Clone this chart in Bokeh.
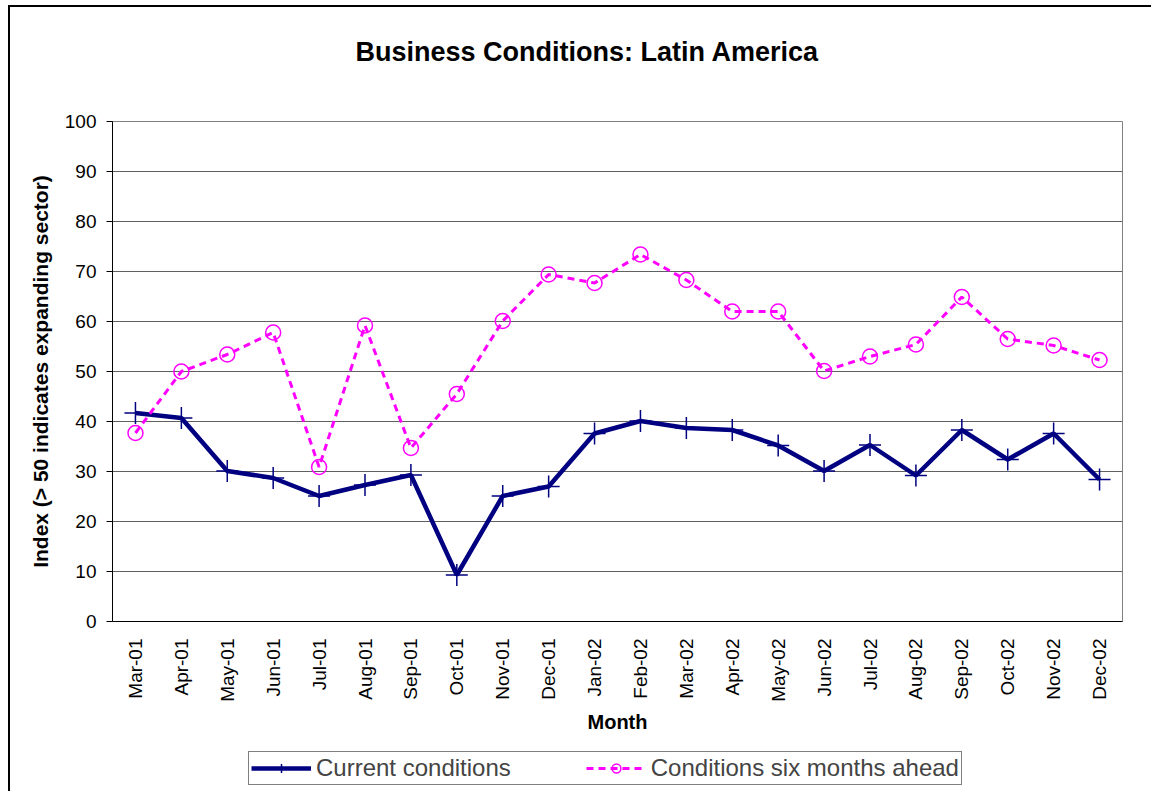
import math
from bokeh.plotting import figure
from bokeh.layouts import column
from bokeh.models import Legend, LegendItem, FixedTicker, Title
from bokeh.embed import file_html
from bokeh.resources import INLINE

months = ["Mar-01", "Apr-01", "May-01", "Jun-01", "Jul-01", "Aug-01", "Sep-01",
          "Oct-01", "Nov-01", "Dec-01", "Jan-02", "Feb-02", "Mar-02", "Apr-02",
          "May-02", "Jun-02", "Jul-02", "Aug-02", "Sep-02", "Oct-02", "Nov-02", "Dec-02"]
current = [41.7, 40.7, 30.1, 28.7, 25.1, 27.3, 29.3, 9.3, 25.1, 27.0, 37.6,
           40.1, 38.7, 38.3, 35.2, 30.1, 35.3, 29.2, 38.3, 32.4, 37.6, 28.4]
ahead = [37.7, 50.0, 53.4, 57.8, 30.9, 59.2, 34.7, 45.5, 60.1, 69.4, 67.7,
         73.4, 68.3, 62.0, 62.0, 50.1, 53.0, 55.4, 64.9, 56.5, 55.2, 52.3]
y_ticks = [0, 10, 20, 30, 40, 50, 60, 70, 80, 90, 100]
series_names = ["Current conditions", "Conditions six months ahead"]
chart_title = "Business Conditions: Latin America"

FONT = "Liberation Sans"
NAVY = "#000080"
MAGENTA = "#FF00FF"


def draw_series(fig):
    l1 = fig.line(months, current, line_color=NAVY, line_width=4.5)
    m1 = fig.scatter(months, current, marker="cross", size=22, line_color=NAVY,
                     line_width=1.5)
    l2 = fig.line(months, ahead, line_color=MAGENTA, line_width=3, line_dash="7 5")
    m2 = fig.scatter(months, ahead, marker="circle", size=15, line_color=MAGENTA,
                     fill_color=None, line_width=1.5)
    return [l1, m1], [l2, m2]


p = figure(width=1141, height=734, x_range=months, y_range=(0, 100),
           output_backend="svg", toolbar_location=None,
           min_border_left=102, min_border_right=29,
           min_border_top=114, min_border_bottom=120)

# spacer between frame and title (closest to the frame), then the title itself
spacer = Title(text="\u00a0", text_font=FONT, text_font_size="1px", standoff=50)
p.add_layout(spacer, "above")
main_title = Title(text=chart_title, text_font=FONT, text_font_size="27px",
                   text_font_style="bold", text_color="black", align="left",
                   offset=243, standoff=4)
p.add_layout(main_title, "above")

p.outline_line_color = "#808080"
p.background_fill_color = "white"
p.border_fill_color = "white"

p.xgrid.grid_line_color = None
p.ygrid.grid_line_color = "#606060"
p.ygrid.grid_line_width = 1

yax = p.yaxis[0]
yax.ticker = FixedTicker(ticks=y_ticks)
yax.axis_label = "Index (> 50 indicates expanding sector)"
yax.axis_label_text_font = FONT
yax.axis_label_text_font_size = "21px"
yax.axis_label_text_font_style = "bold"
yax.axis_label_text_color = "black"
yax.axis_label_standoff = 10
yax.major_label_text_font = FONT
yax.major_label_text_font_size = "19px"
yax.major_label_text_color = "black"
yax.major_label_standoff = 10
yax.major_tick_out = 6
yax.major_tick_in = 0
yax.minor_tick_line_color = None
yax.axis_line_color = "black"
yax.major_tick_line_color = "black"

xax = p.xaxis[0]
xax.axis_label = "Month"
xax.axis_label_text_font = FONT
xax.axis_label_text_font_size = "20px"
xax.axis_label_text_font_style = "bold"
xax.axis_label_text_color = "black"
xax.axis_label_standoff = 6
xax.major_label_text_font = FONT
xax.major_label_text_font_size = "19px"
xax.major_label_text_color = "black"
xax.major_label_orientation = math.pi / 2
xax.major_label_standoff = 17
xax.major_tick_line_color = None
xax.major_tick_out = 0
xax.major_tick_in = 0
xax.axis_line_color = "black"

draw_series(p)

# Legend strip: its own figure so the legend box is not clipped by the plot frame
p2 = figure(width=1141, height=50, x_range=months, y_range=(0, 100),
            output_backend="svg", toolbar_location=None,
            x_axis_location=None, y_axis_location=None,
            min_border_left=0, min_border_right=0, min_border_top=0,
            min_border_bottom=0)
p2.outline_line_color = None
p2.grid.visible = False
p2.background_fill_color = "white"
p2.border_fill_color = "white"
r_cur, r_ahead = draw_series(p2)
for r in r_cur + r_ahead:
    r.visible = False

legend = Legend(items=[LegendItem(label=series_names[0], renderers=r_cur),
                       LegendItem(label=series_names[1], renderers=r_ahead)],
                orientation="horizontal", location=(136, 6),
                label_text_font=FONT, label_text_font_size="24px",
                glyph_width=60, glyph_height=22, label_height=22,
                label_standoff=5, spacing=75, padding=2, margin=0,
                border_line_color="black", border_line_width=1,
                background_fill_color="white",
                inactive_fill_alpha=0.0)
p2.add_layout(legend, "center")

layout = column(p, p2, spacing=0)
layout.styles = {"border-left": "2px solid black", "border-top": "2px solid black",
                 "margin-top": "5px", "margin-left": "8px"}

open("out.html", "w").write(file_html(layout, INLINE))
